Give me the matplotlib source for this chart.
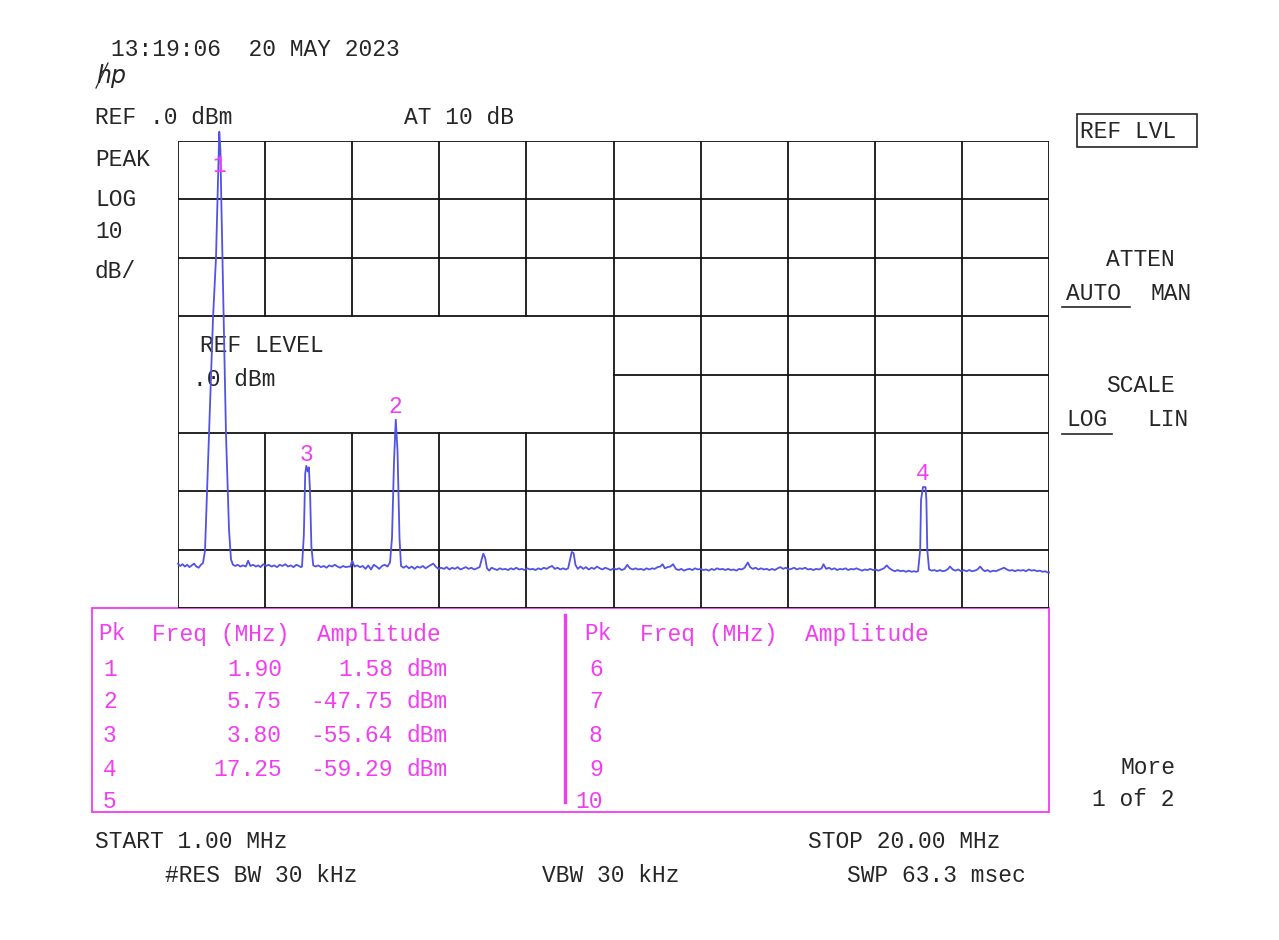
import numpy as np
import matplotlib.pyplot as plt

# sweep setup
f_start, f_stop = 1.0, 20.0      # MHz
ref_level, db_per_div = 0.0, 10.0

# trace (MHz, dBm), read point by point from the screen
freq_mhz = [
    1.00, 1.05, 1.10, 1.15, 1.20, 1.25, 1.30, 1.35, 1.40, 1.45, 1.50,
    1.545, 1.589, 1.676, 1.764, 1.829, 1.862, 1.894, 1.90, 1.925, 1.945, 1.970, 1.995, 2.047, 2.113, 2.156, 2.20,
    2.25, 2.30, 2.36, 2.42, 2.48, 2.53, 2.58, 2.64, 2.70, 2.75, 2.80, 2.86, 2.92, 2.98, 3.04, 3.10, 3.16, 3.22,
    3.28, 3.34, 3.40, 3.46, 3.52, 3.58, 3.64, 3.68,
    3.705, 3.745, 3.775, 3.80, 3.83, 3.855, 3.88, 3.91, 3.95,
    4.00, 4.06, 4.12, 4.18, 4.24, 4.30, 4.36, 4.42, 4.48, 4.54, 4.60, 4.66, 4.72, 4.76, 4.80, 4.85, 4.91, 4.97,
    5.03, 5.09, 5.15, 5.21, 5.27, 5.33, 5.39, 5.45, 5.51, 5.57,
    5.625, 5.668, 5.712, 5.75, 5.788, 5.832, 5.865,
    5.92, 5.98, 6.04, 6.10, 6.16, 6.22, 6.28, 6.34, 6.40, 6.46, 6.52, 6.57, 6.62, 6.68, 6.74, 6.80, 6.86, 6.92,
    6.98, 7.04, 7.10, 7.16, 7.22, 7.28, 7.34, 7.40, 7.46, 7.52,
    7.58, 7.63, 7.66, 7.70, 7.74, 7.79, 7.84,
    7.90, 7.96, 8.02, 8.08, 8.14, 8.20, 8.26, 8.32, 8.38, 8.44, 8.50, 8.56, 8.62, 8.68, 8.74, 8.80, 8.86, 8.92,
    8.98, 9.04, 9.10, 9.16, 9.22, 9.28, 9.34, 9.40, 9.46, 9.51,
    9.55, 9.59, 9.63, 9.67, 9.72,
    9.78, 9.84, 9.90, 9.96, 10.02, 10.08, 10.14, 10.20, 10.26, 10.32, 10.38, 10.44, 10.50, 10.56, 10.62, 10.68,
    10.74, 10.80, 10.86, 10.92, 10.98, 11.04, 11.10, 11.16, 11.22, 11.28, 11.34, 11.40, 11.46, 11.52, 11.57,
    11.62, 11.68, 11.74, 11.80, 11.86, 11.92, 11.98, 12.04, 12.10, 12.16, 12.22, 12.28, 12.34, 12.40, 12.46,
    12.52, 12.58, 12.64, 12.70, 12.76, 12.82, 12.88, 12.94, 13.00, 13.06, 13.12, 13.18, 13.24, 13.30, 13.36,
    13.43, 13.48, 13.54, 13.60, 13.66, 13.72, 13.78, 13.84, 13.90, 13.96, 14.02, 14.08, 14.14, 14.20, 14.26,
    14.32, 14.38, 14.44, 14.50, 14.56, 14.62, 14.68, 14.74, 14.80, 14.86, 14.92, 14.98, 15.04, 15.08, 15.14,
    15.20, 15.26, 15.32, 15.38, 15.44, 15.50, 15.56, 15.62, 15.68, 15.74, 15.80, 15.86, 15.92, 15.98, 16.04,
    16.10, 16.16, 16.22, 16.28, 16.34, 16.40, 16.46, 16.52, 16.58, 16.64, 16.70, 16.76, 16.82, 16.88, 16.94,
    17.00, 17.06, 17.10,
    17.143, 17.19, 17.208, 17.25, 17.307, 17.325, 17.345, 17.384,
    17.44, 17.50, 17.56, 17.62, 17.68, 17.74, 17.80, 17.84, 17.90, 17.96, 18.02, 18.08, 18.14, 18.20, 18.26,
    18.32, 18.38, 18.44, 18.50, 18.55, 18.60, 18.66, 18.72, 18.78, 18.84, 18.90, 18.96, 19.02, 19.08, 19.14,
    19.20, 19.26, 19.32, 19.38, 19.44, 19.50, 19.56, 19.62, 19.68, 19.74, 19.80, 19.86, 19.92, 19.96, 20.00,
]
level_dbm = [
    -72.4, -72.8, -72.5, -72.9, -72.6, -73.0, -72.7, -72.4, -72.9, -73.1, -72.6,
    -72.3, -70.2, -50.3, -30.3, -20.0, -10.3, -1.5, 1.58, -1.5, -10.3, -20.0, -30.3, -50.3, -66.6, -71.7, -72.6,
    -72.8, -72.6, -72.9, -72.7, -72.9, -71.9, -72.8, -72.6, -72.9, -72.7, -73.0, -72.5, -72.8, -72.6, -72.9, -72.7, -73.0, -72.6,
    -72.8, -72.5, -72.9, -72.7, -73.0, -72.6, -72.8, -73.0,
    -72.9, -67.5, -57.0, -55.64, -56.6, -55.9, -60.0, -69.5, -72.7,
    -72.9, -72.7, -73.0, -72.8, -73.1, -72.7, -72.9, -72.6, -72.9, -73.1, -72.8, -73.0, -72.9, -72.9, -71.9, -72.9, -72.7, -73.0,
    -72.8, -73.3, -72.7, -73.4, -72.6, -72.9, -73.3, -72.8, -72.6, -72.9,
    -72.2, -68.0, -55.0, -47.75, -53.0, -68.0, -72.8,
    -73.1, -72.8, -73.2, -72.9, -73.3, -72.9, -73.1, -72.8, -73.2, -72.9, -72.6, -72.4, -72.9, -73.3, -73.1, -73.3, -73.0, -73.4,
    -73.1, -73.3, -73.0, -73.4, -73.2, -73.0, -73.3, -73.1, -73.4, -73.2,
    -73.0, -71.5, -70.7, -71.4, -73.2, -73.6, -73.1,
    -73.3, -73.5, -73.2, -73.4, -73.3, -73.5, -73.2, -73.4, -73.1, -73.4, -73.3, -73.5, -73.2, -73.4, -73.3, -73.5, -73.2, -73.4,
    -73.1, -73.3, -73.0, -72.8, -73.3, -73.1, -73.4, -73.2, -73.4, -73.2,
    -71.8, -70.4, -70.6, -72.6, -73.3,
    -72.9, -73.3, -73.0, -73.4, -73.1, -73.3, -72.9, -73.2, -73.4, -73.1, -73.3, -73.5, -73.2, -73.4, -73.2, -73.5,
    -73.3, -72.6, -73.2, -73.4, -73.2, -73.4, -73.3, -73.5, -73.2, -73.4, -73.2, -73.3, -73.0, -72.9, -72.5,
    -73.2, -73.0, -72.9, -72.5, -73.3, -73.5, -73.3, -73.6, -73.4, -73.3, -73.5, -73.2, -73.4, -73.3, -73.5,
    -73.4, -73.6, -73.3, -73.5, -73.2, -73.4, -73.3, -73.5, -73.3, -73.5, -73.4, -73.6, -73.3, -73.4, -73.1,
    -72.2, -73.0, -73.3, -73.1, -73.4, -73.2, -73.4, -73.3, -73.5, -73.3, -73.5, -73.2, -73.0, -73.3, -73.1,
    -73.4, -73.3, -73.1, -73.4, -73.2, -73.3, -73.1, -73.4, -73.3, -73.5, -73.3, -73.4, -73.2, -72.5, -73.3,
    -73.1, -73.4, -73.2, -73.5, -73.3, -73.4, -73.2, -73.5, -73.3, -73.4, -73.2, -73.4, -73.6, -73.4, -73.5,
    -73.3, -73.5, -73.4, -73.6, -73.4, -73.2, -72.7, -73.2, -73.5, -73.7, -73.5, -73.7, -73.6, -73.8, -73.6,
    -73.8, -73.7, -73.8,
    -73.7, -70.0, -61.5, -59.29, -59.29, -61.5, -70.0, -73.4,
    -73.6, -73.5, -73.7, -73.5, -73.7, -73.6, -73.3, -72.9, -73.4, -73.6, -73.4, -73.7, -73.5, -73.7, -73.5,
    -73.7, -73.6, -73.4, -72.9, -73.4, -73.7, -73.5, -73.8, -73.6, -73.7, -73.5, -73.3, -73.1, -73.4, -73.6,
    -73.5, -73.7, -73.5, -73.6, -73.5, -73.7, -73.4, -73.6, -73.5, -73.7, -73.6, -73.8, -73.7, -73.9, -73.9,
]

# marker table
pk_num = [1, 2, 3, 4]
pk_freq = [1.90, 5.75, 3.80, 17.25]
pk_amp = [1.58, -47.75, -55.64, -59.29]

BLACK = '#262626'
GRID = '#141414'
MAG = '#f23cf2'
BLUE = '#5252e6'
FONT = 'Liberation Mono'
FS = 16.5

fig = plt.figure(figsize=(12.79, 9.40), dpi=100)

# overlay in screen pixels for annotations
ov = fig.add_axes([0, 0, 1, 1])
ov.set_xlim(0, 1279)
ov.set_ylim(940, 0)
ov.axis('off')


def txt(x, y, s, color=BLACK, ha='left', size=FS):
    ov.text(x, y, s, color=color, ha=ha, va='center', family=FONT, fontsize=size)


# graticule axes
gl, gr, gt, gb = 178, 1049, 141, 608
ax = fig.add_axes([gl / 1279, (940 - gb) / 940, (gr - gl) / 1279, (gb - gt) / 940])
ax.set_xlim(f_start, f_stop)
ax.set_ylim(ref_level - 8 * db_per_div, ref_level)
ax.axis('off')

xdiv = [f_start + k * (f_stop - f_start) / 10 for k in range(11)]
ydiv = [ref_level - k * db_per_div for k in range(9)]
box_f = xdiv[5]                 # REF LEVEL window covers left half,
box_lo, box_hi = ydiv[5], ydiv[3]   # between -50 and -30 dB

glw = 1.3
for i, f in enumerate(xdiv):
    if 0 < i < 5:
        ax.plot([f, f], [ydiv[-1], box_lo], color=GRID, lw=glw)
        ax.plot([f, f], [box_hi, ydiv[0]], color=GRID, lw=glw)
    else:
        ax.plot([f, f], [ydiv[-1], ydiv[0]], color=GRID, lw=glw)
for j, d in enumerate(ydiv):
    if j == 4:
        ax.plot([box_f, f_stop], [d, d], color=GRID, lw=glw)
    else:
        ax.plot([f_start, f_stop], [d, d], color=GRID, lw=glw)

ax.plot(freq_mhz, level_dbm, color=BLUE, lw=1.3, clip_on=False, zorder=5)

# marker numbers above peaks
mk_off = [-2.2, 2.3, 1.9, 2.3]
for n, f, a, o in zip(pk_num, pk_freq, pk_amp, mk_off):
    ax.text(f, a + o if n != 1 else -4.2, str(n), color=MAG, ha='center', va='center',
            family=FONT, fontsize=FS, zorder=6)

# header
txt(111, 50, '13:19:06  20 MAY 2023')
ov.text(96, 76, 'hp', color=BLACK, ha='left', va='center', family='DejaVu Sans',
        fontsize=17, fontstyle='italic', fontweight='light')
ov.plot([96, 108], [88, 63], color=BLACK, lw=0.9)
txt(95, 117, 'REF .0 dBm')
txt(404, 117, 'AT 10 dB')

# left side labels
txt(95, 160, 'PEAK')
txt(95, 200, 'LOG')
txt(95, 232, '10')
txt(95, 271, 'dB/')

txt(200, 345, 'REF LEVEL')
txt(193, 379, '.0 dBm')

# softkey panel
ov.add_patch(plt.Rectangle((1077, 114), 120, 33, fill=False, ec=BLACK, lw=1.2))
txt(1080, 131, 'REF LVL')
txt(1106, 260, 'ATTEN')
txt(1066, 294, 'AUTO')
txt(1150, 294, 'MAN')
ov.plot([1062, 1130], [307, 307], color=BLACK, lw=1.2)
txt(1106, 386, 'SCALE')
txt(1066, 420, 'LOG')
txt(1147, 420, 'LIN')
ov.plot([1062, 1112], [434, 434], color=BLACK, lw=1.2)
txt(1120, 768, 'More')
txt(1092, 800, '1 of 2')

# peak table
ov.add_patch(plt.Rectangle((92, 608), 957, 204, fill=False, ec=MAG, lw=1.3))
ov.plot([565, 565], [615, 802], color=MAG, lw=2.4)
row_y = [669, 702, 735, 769, 801]
txt(98, 634, 'Pk', color=MAG)
txt(152, 634, 'Freq (MHz)', color=MAG)
txt(317, 634, 'Amplitude', color=MAG)
for k, y in enumerate(row_y):
    txt(103, y, str(k + 1), color=MAG)
for n, f, a in zip(pk_num, pk_freq, pk_amp):
    y = row_y[n - 1]
    txt(282, y, f'{f:.2f}', color=MAG, ha='right')
    txt(393, y, f'{a:.2f}', color=MAG, ha='right')
    txt(407, y, 'dBm', color=MAG)
txt(584, 634, 'Pk', color=MAG)
txt(640, 634, 'Freq (MHz)', color=MAG)
txt(805, 634, 'Amplitude', color=MAG)
for k, y in enumerate(row_y):
    num = k + 6
    txt(589 if num < 10 else 575, y, str(num), color=MAG)

# footer
txt(95, 842, f'START {f_start:.2f} MHz')
txt(808, 842, f'STOP {f_stop:.2f} MHz')
txt(165, 875, '#RES BW 30 kHz')
txt(542, 875, 'VBW 30 kHz')
txt(847, 875, 'SWP 63.3 msec')

fig.savefig('out.png', dpi=100)
